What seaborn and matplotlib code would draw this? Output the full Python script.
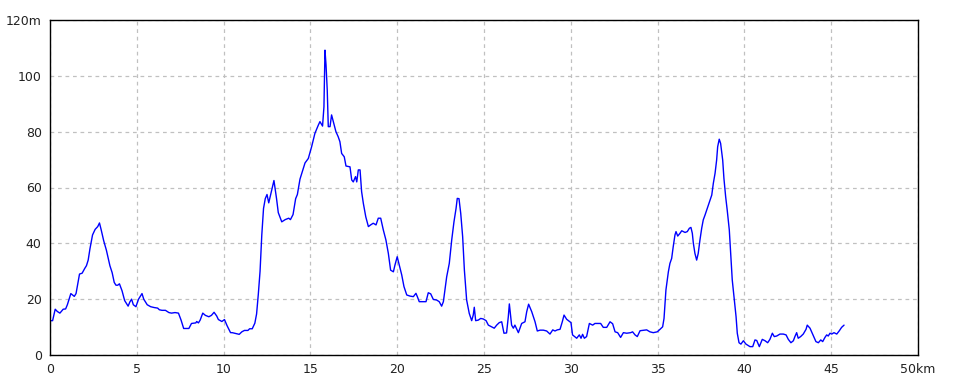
import matplotlib
matplotlib.use("Agg")
import matplotlib.pyplot as plt
import seaborn as sns
import pandas as pd

dist_km = [0.0, 0.15, 0.3, 0.42, 0.57, 0.76, 0.9, 1.0, 1.2, 1.4, 1.5, 1.7, 1.85, 2.0, 2.1, 2.2, 2.3, 2.45,
           2.6, 2.75, 2.85, 2.95, 3.09, 3.25, 3.45, 3.58, 3.7, 3.8, 3.9, 4.0, 4.15, 4.3, 4.5, 4.6, 4.7,
           4.8, 4.95, 5.1, 5.3, 5.4, 5.6, 5.8, 6.0, 6.2, 6.3, 6.45, 6.65, 6.85, 7.0, 7.2, 7.4, 7.55, 7.7,
           8.0, 8.15, 8.4, 8.45, 8.55, 8.65, 8.8, 8.95, 9.15, 9.3, 9.45, 9.6, 9.7, 9.9, 10.05, 10.2, 10.4,
           10.5, 10.7, 10.9, 11.05, 11.2, 11.4, 11.5, 11.65, 11.8, 11.9, 12.0, 12.1, 12.2, 12.3, 12.4,
           12.5, 12.6, 12.75, 12.9, 13.05, 13.15, 13.35, 13.55, 13.75, 13.85, 14.0, 14.15, 14.25, 14.4,
           14.69, 14.88, 15.07, 15.26, 15.46, 15.55, 15.7, 15.78, 15.84, 15.9, 15.97, 16.03, 16.13, 16.22,
           16.32, 16.47, 16.6, 16.7, 16.8, 16.95, 17.05, 17.28, 17.38, 17.47, 17.6, 17.67, 17.76, 17.86,
           17.95, 18.05, 18.19, 18.34, 18.47, 18.62, 18.78, 18.91, 19.05, 19.2, 19.35, 19.49, 19.62,
           19.78, 19.87, 20.0, 20.12, 20.26, 20.39, 20.55, 20.74, 20.93, 21.08, 21.16, 21.27, 21.5, 21.66,
           21.79, 21.93, 22.08, 22.27, 22.42, 22.56, 22.66, 22.75, 22.85, 23.0, 23.14, 23.27, 23.39,
           23.46, 23.56, 23.66, 23.77, 23.87, 24.0, 24.15, 24.29, 24.38, 24.44, 24.52, 24.67, 24.81,
           24.96, 25.12, 25.25, 25.44, 25.59, 25.73, 25.88, 26.02, 26.15, 26.3, 26.4, 26.46, 26.59,
           26.69, 26.78, 26.98, 27.17, 27.36, 27.46, 27.57, 27.75, 27.94, 28.07, 28.23, 28.42, 28.61,
           28.8, 28.96, 29.09, 29.22, 29.38, 29.51, 29.61, 29.76, 30.01, 30.1, 30.34, 30.49, 30.59,
           30.68, 30.78, 30.91, 31.07, 31.26, 31.39, 31.72, 31.87, 32.07, 32.26, 32.41, 32.55, 32.7,
           32.87, 33.03, 33.22, 33.45, 33.56, 33.7, 33.83, 33.99, 34.37, 34.56, 34.75, 34.98, 35.14,
           35.29, 35.37, 35.43, 35.48, 35.56, 35.62, 35.71, 35.81, 35.9, 36.0, 36.06, 36.16, 36.29,
           36.39, 36.58, 36.71, 36.83, 36.92, 37.0, 37.06, 37.15, 37.25, 37.34, 37.44, 37.54, 37.63,
           37.73, 37.86, 38.02, 38.12, 38.21, 38.31, 38.4, 38.46, 38.55, 38.63, 38.75, 38.82, 38.92,
           39.01, 39.13, 39.21, 39.3, 39.4, 39.52, 39.59, 39.69, 39.8, 39.94, 40.09, 40.32, 40.48,
           40.61, 40.71, 40.86, 41.03, 41.19, 41.34, 41.47, 41.61, 41.72, 41.86, 42.05, 42.24, 42.4,
           42.53, 42.68, 42.82, 42.91, 43.01, 43.1, 43.24, 43.39, 43.55, 43.62, 43.78, 43.93, 44.12,
           44.26, 44.4, 44.51, 44.64, 44.74, 44.83, 44.93, 45.03, 45.16, 45.32, 45.47, 45.6, 45.74]

elev_m = [12.3, 12.3, 16.4, 15.6, 15.0, 16.4, 16.5, 18.0, 22.0, 21.0, 22.0, 29.0, 29.3, 31.0, 32.0, 34.0, 38.0, 43.0,
          45.0, 46.0, 47.3, 44.8, 41.0, 37.5, 32.0, 29.5, 26.0, 25.0, 25.0, 25.5, 23.0, 19.5, 17.5, 19.0, 20.0,
          18.0, 17.3, 20.0, 22.0, 20.0, 18.0, 17.3, 17.0, 16.8, 16.2, 16.0, 16.0, 15.2, 15.0, 15.2, 15.0, 12.5, 9.5,
          9.5, 11.3, 11.5, 12.0, 11.5, 12.5, 15.0, 14.2, 13.7, 14.2, 15.3, 14.0, 12.7, 12.0, 12.7, 10.5, 8.0,
          8.0, 7.7, 7.4, 8.3, 8.8, 8.8, 9.4, 9.4, 11.4, 14.7, 21.8, 30.0, 43.0, 52.5, 56.0,
          57.5, 54.5, 58.5, 62.5, 56.0, 51.0, 47.7, 48.5, 49.0, 48.5, 50.3, 56.0, 57.5, 63.0,
          68.8, 70.4, 74.6, 79.4, 82.4, 83.6, 82.0, 88.9, 109.2, 103.9, 94.9, 81.8, 81.8, 86.0,
          83.6, 80.0, 78.2, 76.4, 72.2, 71.0, 67.7, 67.4, 62.7, 62.0, 63.9, 62.0, 66.3, 66.3,
          58.5, 54.3, 49.5, 46.0, 46.6, 47.2, 46.6, 49.0, 49.0, 44.8, 41.2, 36.4, 30.4,
          29.8, 32.2, 35.2, 32.2, 28.7, 24.5, 21.5, 21.1, 20.9, 22.1, 20.9, 19.1, 19.1, 19.1,
          22.3, 21.9, 19.9, 19.7, 19.1, 17.5, 19.1, 23.3, 28.0, 32.8, 41.2, 47.7, 52.5,
          56.1, 56.0, 50.7, 42.4, 30.4, 19.7, 14.9, 12.3, 14.3, 17.1, 12.3, 12.5, 13.1,
          12.9, 12.3, 10.7, 10.1, 9.6, 10.7, 11.6, 11.9, 7.8, 7.9, 13.7, 18.3, 10.7,
          9.6, 10.7, 8.0, 11.3, 11.9, 15.5, 18.2, 15.5, 11.9, 8.6, 8.9, 8.9, 8.6,
          7.5, 9.0, 8.6, 9.0, 9.2, 11.9, 14.3, 12.8, 11.6, 7.2, 6.0, 7.2, 6.0,
          7.4, 6.0, 6.6, 11.3, 10.7, 11.3, 11.3, 9.9, 9.9, 11.9, 11.2, 8.3, 8.0,
          6.3, 8.0, 7.8, 8.0, 8.3, 7.2, 6.6, 8.7, 9.0, 8.3, 8.0, 8.3, 9.2,
          10.1, 13.1, 18.5, 23.3, 26.9, 29.8, 32.8, 34.6, 38.8, 43.0, 44.2, 42.6, 43.6,
          44.5, 43.9, 44.2, 45.4, 45.7, 43.6, 40.0, 36.4, 34.0, 36.4, 41.2, 45.4, 48.4,
          50.1, 52.5, 55.5, 57.3, 61.5, 65.1, 69.8, 74.6, 77.3, 75.8, 69.8, 63.3, 56.7,
          51.9, 44.8, 36.4, 26.9, 20.9, 13.7, 7.8, 4.4, 3.9, 5.1, 3.9, 3.0, 3.0,
          5.4, 5.2, 3.0, 5.6, 5.1, 4.4, 5.6, 7.8, 6.6, 6.8, 7.5, 7.5, 7.2,
          5.6, 4.4, 5.1, 6.6, 8.0, 6.0, 6.6, 7.5, 9.2, 10.7, 9.6, 7.5, 4.8,
          4.4, 5.4, 4.8, 6.3, 7.2, 6.8, 7.8, 7.5, 8.0, 7.5, 8.7, 9.9, 10.7]

x_ticks = [0, 5, 10, 15, 20, 25, 30, 35, 40, 45, 50]
x_labels = ["0", "5", "10", "15", "20", "25", "30", "35", "40", "45", "50km"]
y_ticks = [0, 20, 40, 60, 80, 100, 120]
y_labels = ["0", "20", "40", "60", "80", "100", "120m"]

df = pd.DataFrame({"km": dist_km, "m": elev_m})

sns.set_style("white")
plt.rcParams["font.family"] = ["DejaVu Sans"]

fig = plt.figure(figsize=(9.6, 3.84), dpi=100)
ax = fig.add_axes([50 / 960, 29 / 384, 868 / 960, 335 / 384])

sns.lineplot(data=df, x="km", y="m", ax=ax, color="#0000ff", linewidth=1.0,
             estimator=None, sort=False)

ax.set_xlim(0, 50)
ax.set_ylim(0, 120)
ax.set_xticks(x_ticks)
ax.set_xticklabels(x_labels)
ax.set_yticks(y_ticks)
ax.set_yticklabels(y_labels)
ax.set_xlabel("")
ax.set_ylabel("")
ax.tick_params(axis="both", length=0, labelsize=9, colors="#222222", pad=6)
ax.grid(True, color="#c0c0c0", linestyle=(0, (3, 3)), linewidth=0.9)
for s in ax.spines.values():
    s.set_color("black")
    s.set_linewidth(1.0)
ax.set_axisbelow(True)

fig.savefig("out.png", dpi=100)
